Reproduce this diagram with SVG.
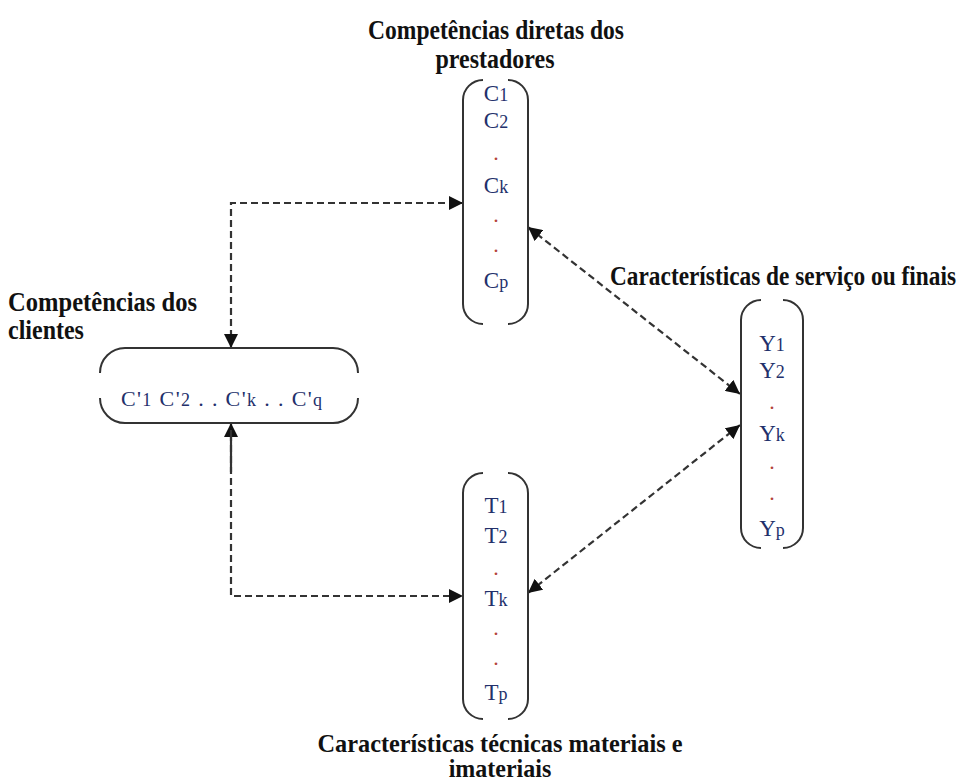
<svg xmlns="http://www.w3.org/2000/svg" width="965" height="783" viewBox="0 0 965 783">
<style>
.title{font-family:"Liberation Serif","Times New Roman",serif;font-weight:bold;font-size:24px;fill:#111}
.item{font-family:"Liberation Serif","Times New Roman",serif;font-size:23px;fill:#23306b;text-anchor:middle}
.sub{font-size:18px}
.dot{font-family:"Liberation Serif","Times New Roman",serif;font-size:22px;fill:#b5443a;text-anchor:middle}
.box{fill:none;stroke:#333;stroke-width:2}
.conn{fill:none;stroke:#333;stroke-width:2.2;stroke-dasharray:7 4}
.solid{fill:none;stroke:#333;stroke-width:2.2}
</style>
<defs>
<marker id="ah" markerUnits="userSpaceOnUse" markerWidth="14" markerHeight="14" viewBox="0 0 14 14" refX="14" refY="7" orient="auto-start-reverse">
<path d="M0,0 L14,7 L0,14 Z" fill="#111"/>
</marker>
</defs>
<rect width="965" height="783" fill="#fff"/>

<g id="connectors">
<path class="conn" d="M231,348 L231,203 L463,203" marker-start="url(#ah)" marker-end="url(#ah)"/>
<path class="conn" d="M231,423 L231,596 L463,596" marker-start="url(#ah)" marker-end="url(#ah)"/>
<path class="solid" d="M231,430 L231,472"/>
<path class="conn" d="M528,227 L740,394" marker-start="url(#ah)" marker-end="url(#ah)"/>
<path class="conn" d="M528,593 L740,425" marker-start="url(#ah)" marker-end="url(#ah)"/>
</g>

<g id="node-prestadores">
<path class="box" d="M483,80 A20,20 0 0 0 463,100 L463,304 A20,20 0 0 0 483,324 M508,80 A20,20 0 0 1 528,100 L528,304 A20,20 0 0 1 508,324"/>
<text class="title" text-anchor="middle" transform="translate(496,39) scale(1,1.1)" textLength="256" lengthAdjust="spacingAndGlyphs">Competências diretas dos</text>
<text class="title" text-anchor="middle" transform="translate(495,68) scale(1,1.1)">prestadores</text>
<text class="item" x="496" y="101">C<tspan class="sub">1</tspan></text>
<text class="item" x="496" y="128">C<tspan class="sub">2</tspan></text>
<text class="dot" x="496" y="160">.</text>
<text class="item" x="496" y="193">C<tspan class="sub">k</tspan></text>
<text class="dot" x="496" y="222">.</text>
<text class="dot" x="496" y="252">.</text>
<text class="item" x="496" y="288">C<tspan class="sub">p</tspan></text>
</g>

<g id="node-clientes">
<path class="box" d="M125,348 L333,348 A25,25 0 0 1 358,373 M358,398 A25,25 0 0 1 333,423 L125,423 A25,25 0 0 1 100,398 M100,373 A25,25 0 0 1 125,348"/>
<text class="title" transform="translate(8,311) scale(1,1.1)" textLength="189" lengthAdjust="spacingAndGlyphs">Competências dos</text>
<text class="title" transform="translate(8,339) scale(1,1.1)">clientes</text>
<text class="item" x="121" y="406" style="text-anchor:start;font-size:22px" textLength="201" lengthAdjust="spacing">C'<tspan class="sub">1</tspan> C'<tspan class="sub">2</tspan> . . C'<tspan class="sub">k</tspan> . . C'<tspan class="sub">q</tspan></text>
</g>

<g id="node-servico">
<path class="box" d="M761,300 A20,20 0 0 0 741,320 L741,528 A20,20 0 0 0 761,548 M783,300 A20,20 0 0 1 803,320 L803,528 A20,20 0 0 1 783,548"/>
<text class="title" transform="translate(610,285) scale(1,1.1)" textLength="346" lengthAdjust="spacingAndGlyphs">Características de serviço ou finais</text>
<text class="item" x="772" y="351">Y<tspan class="sub">1</tspan></text>
<text class="item" x="772" y="378">Y<tspan class="sub">2</tspan></text>
<text class="dot" x="772" y="409">.</text>
<text class="item" x="772" y="441">Y<tspan class="sub">k</tspan></text>
<text class="dot" x="772" y="469">.</text>
<text class="dot" x="772" y="500">.</text>
<text class="item" x="772" y="536">Y<tspan class="sub">p</tspan></text>
</g>

<g id="node-tecnicas">
<path class="box" d="M483,473 A20,20 0 0 0 463,493 L463,699 A20,20 0 0 0 483,719 M508,473 A20,20 0 0 1 528,493 L528,699 A20,20 0 0 1 508,719"/>
<text class="title" text-anchor="middle" transform="translate(500,752) scale(1,1.05)" textLength="365" lengthAdjust="spacingAndGlyphs">Características técnicas materiais e</text>
<text class="title" text-anchor="middle" transform="translate(500,777) scale(1,1.05)">imateriais</text>
<text class="item" x="496" y="513">T<tspan class="sub">1</tspan></text>
<text class="item" x="496" y="543">T<tspan class="sub">2</tspan></text>
<text class="dot" x="496" y="575">.</text>
<text class="item" x="496" y="606">T<tspan class="sub">k</tspan></text>
<text class="dot" x="496" y="635">.</text>
<text class="dot" x="496" y="665">.</text>
<text class="item" x="496" y="700">T<tspan class="sub">p</tspan></text>
</g>
</svg>
